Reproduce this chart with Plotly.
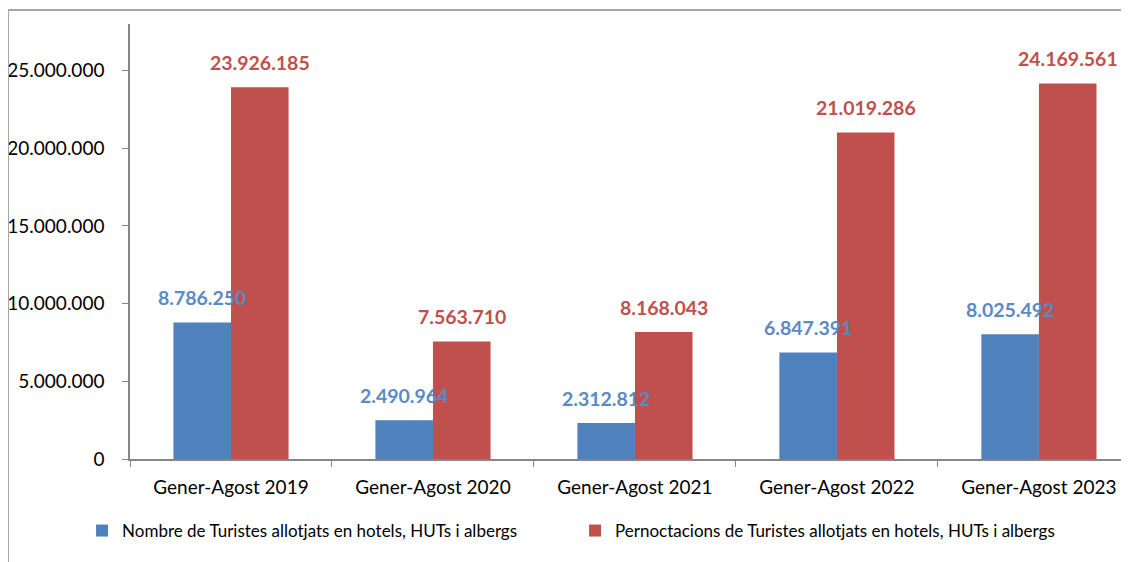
import plotly.graph_objects as go

categories = ["Gener-Agost 2019", "Gener-Agost 2020", "Gener-Agost 2021",
              "Gener-Agost 2022", "Gener-Agost 2023"]
turistes = [8786250, 2490964, 2312812, 6847391, 8025492]
pernoctacions = [23926185, 7563710, 8168043, 21019286, 24169561]
name_turistes = "Nombre de Turistes allotjats en hotels, HUTs i albergs"
name_pernoct = "Pernoctacions de Turistes allotjats en hotels, HUTs i albergs"

blue = "#4F81BD"
red = "#C0504D"
font = "Lato, 'Liberation Sans', sans-serif"


def fmt(v):
    return f"{v:,}".replace(",", ".")


fig = go.Figure()
fig.add_trace(go.Bar(x=categories, y=turistes, name=name_turistes,
                     marker=dict(color=blue, line=dict(width=0))))
fig.add_trace(go.Bar(x=categories, y=pernoctacions, name=name_pernoct,
                     marker=dict(color=red, line=dict(width=0))))

# data labels above each bar
for i, cat in enumerate(categories):
    fig.add_annotation(x=cat, y=turistes[i], text=fmt(turistes[i]),
                       xshift=-29, yshift=25, showarrow=False,
                       font=dict(family=font, size=19.5, color="#5A8AC6", weight="bold"))
    fig.add_annotation(x=cat, y=pernoctacions[i], text=fmt(pernoctacions[i]),
                       xshift=29, yshift=25, showarrow=False,
                       font=dict(family=font, size=19.5, color=red, weight="bold"))

# outer chart border
fig.add_shape(type="rect", xref="paper", yref="paper",
              x0=-0.1221, x1=1.2, y0=-0.4, y1=1.0322,
              line=dict(color="#A6A6A6", width=2), fillcolor="rgba(0,0,0,0)")

fig.update_layout(
    width=1121, height=554,
    margin=dict(l=122, r=0, t=16, b=103),
    paper_bgcolor="white", plot_bgcolor="white",
    barmode="group", bargap=0.43, bargroupgap=0,
    separators=",.",
    font=dict(family=font, size=19, color="black"),
    showlegend=True,
    legend=dict(orientation="h", x=-0.048, xanchor="left", y=-0.1655, yanchor="middle",
                font=dict(size=17, color="black"), entrywidth=448,
                itemwidth=30, traceorder="normal"),
)
fig.update_xaxes(range=[-0.5, 4.446], showline=True, linecolor="#868686", linewidth=1.5,
                 ticks="outside", tickson="boundaries", ticklen=6, tickcolor="#868686",
                 showgrid=False, tickfont=dict(size=19), ticklabelstandoff=10)
fig.update_yaxes(range=[0, 28000000], dtick=5000000, tickformat=",d",
                 showline=True, linecolor="#868686", linewidth=1.5,
                 ticks="outside", ticklen=6, tickcolor="#868686",
                 showgrid=False, zeroline=False, ticklabelstandoff=14,
                 tickfont=dict(size=19))

fig.write_html("out.html")
